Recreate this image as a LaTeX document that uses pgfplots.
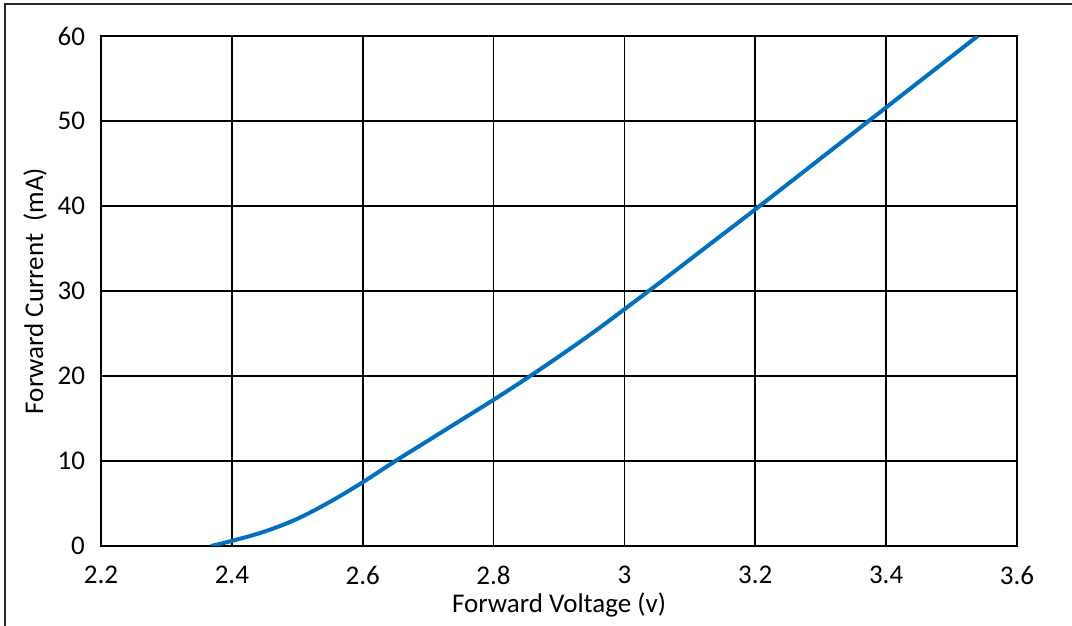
\documentclass[border=0pt]{standalone}
\usepackage{pgfplots}
\pgfplotsset{compat=1.18}
\usepackage{fontspec}
\setmainfont{Carlito}
\definecolor{exblue}{RGB}{0,112,192}
\begin{document}
\begin{tikzpicture}
\begin{axis}[
  scale only axis,
  width=458pt, height=255pt,
  xmin=2.2, xmax=3.6, ymin=0, ymax=60,
  xtick={2.2,2.4,...,3.6},
  xticklabels={2.2,2.4,2.6,2.8,3,3.2,3.4,3.6},
  ytick={0,10,...,60},
  major tick length=0pt,
  grid=major,
  major grid style={black, line width=0.9pt},
  axis line style={black, line width=0.9pt},
  font=\fontsize{13.5}{16}\selectfont,
  /pgf/number format/assume math mode=true,
  xticklabel style={yshift=-6.5pt},
  yticklabel style={xshift=-4.5pt},
  every axis x label/.style={at={(axis description cs:0.5,-0.116)}, anchor=center},
  every axis y label/.style={at={(axis description cs:-0.072,0.5)}, rotate=90, anchor=center},
  xlabel={Forward Voltage (v)},
  ylabel={Forward Current\ \ (mA)},
]
\addplot[exblue, line width=2pt, smooth, tension=0.6] coordinates {
(2.368,0) (2.4,0.6) (2.45,1.7) (2.5,3.2) (2.55,5.2) (2.6,7.5) (2.65,10.0)
(2.7,12.4) (2.75,14.8) (2.8,17.2) (2.85,19.7) (2.9,22.3) (2.95,25.0)
(3.0,27.85) (3.05,30.75) (3.1,33.7) (3.15,36.65) (3.2,39.6) (3.25,42.6)
(3.3,45.6) (3.35,48.6) (3.4,51.6) (3.45,54.6) (3.5,57.6) (3.54,60)
};
\end{axis}
\draw[line width=1pt, black!85] (-48pt,-45pt) -- (-48pt,271pt) -- (490pt,271pt);
\pgfresetboundingbox
\path (-50.5pt,-40pt) rectangle (485.5pt,273pt);
\end{tikzpicture}
\end{document}
